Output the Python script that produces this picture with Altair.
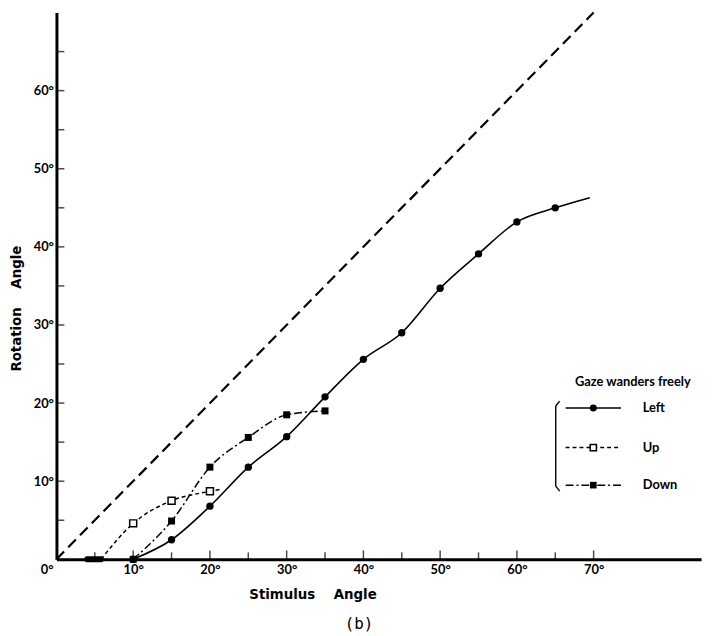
import altair as alt
import pandas as pd

# ---------------- data ----------------
left_x = [10, 15, 20, 25, 30, 35, 40, 45, 50, 55, 60, 65]
left_y = [0, 2.5, 6.8, 11.8, 15.7, 20.8, 25.6, 29.0, 34.7, 39.1, 43.2, 45.0]
left_end_x = [69.5]
left_end_y = [46.3]

up_x = [10, 15, 20]
up_y = [4.6, 7.5, 8.7]
up_start_x = [5.8]
up_start_y = [0]
up_end_x = [21.6]
up_end_y = [9.0]
up_bar_x = [4.0, 5.8]

down_x = [10, 15, 20, 25, 30, 35]
down_y = [0, 4.9, 11.8, 15.6, 18.5, 19.0]

diag_x = [0, 70]
diag_y = [0, 70]

x_major = [10, 20, 30, 40, 50, 60, 70]
x_minor = [5, 15, 25, 35, 45, 55, 65]
y_label_vals = [10, 20, 30, 40, 50, 60]
y_ticks = [5, 10, 15, 20, 25, 30, 35, 40, 45, 50, 55, 60, 65]

legend_names = ["Left", "Up", "Down"]
legend_title = "Gaze wanders freely"

# ---------------- tables ----------------
left_line = pd.DataFrame({"x": left_x + left_end_x, "y": left_y + left_end_y})
left_pts = pd.DataFrame({"x": left_x, "y": left_y})
up_line = pd.DataFrame({"x": up_start_x + up_x + up_end_x, "y": up_start_y + up_y + up_end_y})
up_pts = pd.DataFrame({"x": up_x, "y": up_y})
up_bar = pd.DataFrame({"x": [up_bar_x[0]], "x2": [up_bar_x[1]], "y": [0]})
down_df = pd.DataFrame({"x": down_x, "y": down_y})
diag_df = pd.DataFrame({"x": diag_x, "y": diag_y})
xmaj_df = pd.DataFrame({"x": x_major})
xmin_df = pd.DataFrame({"x": x_minor})
ytk_df = pd.DataFrame({"y": y_ticks})

FONT = "Lato"
TFONT = "DejaVu Sans"
NB = "\u00a0"
xs = alt.Scale(domain=[0, 84], nice=False, zero=False)
ys = alt.Scale(domain=[0, 70], nice=False, zero=False)

x_axis = alt.Axis(values=x_major, labelExpr="datum.value + '°'", tickSize=0,
                  domainWidth=3, domainColor="black", grid=False,
                  labelFont=FONT, labelFontWeight="bold", labelFontSize=13,
                  labelColor="black", labelPadding=4,
                  title="Stimulus" + NB * 4 + "Angle", titleFont=TFONT,
                  titleFontWeight="bold", titleFontSize=13.5, titleColor="black",
                  titleX=259, titleY=36, titleAlign="center", titleBaseline="middle")
y_axis = alt.Axis(values=y_label_vals, labelExpr="datum.value + '°'", tickSize=0,
                  domainWidth=3, domainColor="black", grid=False,
                  labelFont=FONT, labelFontWeight="bold", labelFontSize=13,
                  labelColor="black", labelPadding=3,
                  title="Rotation" + NB * 4 + "Angle",
                  titleFont=TFONT, titleFontWeight="bold", titleFontSize=13.5,
                  titleColor="black", titleX=-36, titleY=299, titleAngle=270,
                  titleAlign="center", titleBaseline="alphabetic")


def X():
    return alt.X("x:Q", scale=xs, axis=x_axis)


def Y():
    return alt.Y("y:Q", scale=ys, axis=y_axis)


def X0():
    return alt.XDatum(0, scale=xs, axis=x_axis)


def Y0():
    return alt.YDatum(0, scale=ys, axis=y_axis)


diag = alt.Chart(diag_df).mark_line(color="black", strokeWidth=2.2, strokeDash=[11, 6]).encode(x=X(), y=Y())

left_l = alt.Chart(left_line).mark_line(color="black", strokeWidth=1.6, interpolate="monotone").encode(x=X(), y=Y())
left_p = alt.Chart(left_pts).mark_point(shape="circle", filled=True, color="black", size=55, opacity=1).encode(x=X(), y=Y())

up_l = alt.Chart(up_line).mark_line(color="black", strokeWidth=1.5, strokeDash=[4, 3], interpolate="monotone").encode(x=X(), y=Y())
up_p = alt.Chart(up_pts).mark_point(shape="square", filled=True, fill="white", stroke="black", strokeWidth=1.5, size=50, opacity=1).encode(x=X(), y=Y())
up_b = alt.Chart(up_bar).mark_rule(color="black", strokeWidth=6, strokeCap="round").encode(x=X(), x2="x2:Q", y=Y())

down_l = alt.Chart(down_df).mark_line(color="black", strokeWidth=1.5, strokeDash=[8, 3, 2, 3], interpolate="monotone").encode(x=X(), y=Y())
down_p = alt.Chart(down_df).mark_point(shape="square", filled=True, color="black", size=50, opacity=1).encode(x=X(), y=Y())

xmaj = alt.Chart(xmaj_df).mark_tick(orient="vertical", color="black", size=9, thickness=1.5, yOffset=-4.5).encode(x=X(), y=Y0())
xmin = alt.Chart(xmin_df).mark_tick(orient="vertical", color="black", size=7, thickness=1.5, yOffset=-3.5).encode(x=X(), y=Y0())
ytk = alt.Chart(ytk_df).mark_tick(orient="horizontal", color="black", size=8, thickness=1.5, xOffset=4).encode(y=Y(), x=X0())

zero_lbl = alt.Chart(pd.DataFrame({"t": ["0°"]})).mark_text(
    font=FONT, fontWeight="bold", fontSize=13, color="black", align="right", baseline="middle", dx=-3, dy=11
).encode(x=X0(), y=Y0(), text="t:N")

# ---------------- legend (drawn by hand) ----------------
row_y = [400, 440, 478]
leg_layers = []
leg_layers.append(alt.Chart(pd.DataFrame({"t": [legend_title]})).mark_text(
    font=FONT, fontWeight="bold", fontSize=13, color="black", align="center", baseline="middle"
).encode(x=alt.value(583), y=alt.value(374), text="t:N"))
dashes = [[1, 0], [4, 3], [8, 3, 2, 3]]
for name, yy, dsh in zip(legend_names, row_y, dashes):
    leg_layers.append(alt.Chart(pd.DataFrame({"n": [name]})).mark_rule(
        color="black", strokeWidth=1.5, strokeDash=dsh
    ).encode(x=alt.value(515), x2=alt.value(571), y=alt.value(yy)))
    leg_layers.append(alt.Chart(pd.DataFrame({"n": [name]})).mark_text(
        font=FONT, fontWeight="bold", fontSize=13, color="black", align="left", baseline="middle"
    ).encode(x=alt.value(593), y=alt.value(yy), text="n:N"))
leg_layers.append(alt.Chart(pd.DataFrame({"n": ["Left"]})).mark_point(
    shape="circle", filled=True, color="black", size=50, opacity=1).encode(x=alt.value(543), y=alt.value(row_y[0])))
leg_layers.append(alt.Chart(pd.DataFrame({"n": ["Up"]})).mark_point(
    shape="square", filled=True, fill="white", stroke="black", strokeWidth=1.5, size=40, opacity=1).encode(x=alt.value(543), y=alt.value(row_y[1])))
leg_layers.append(alt.Chart(pd.DataFrame({"n": ["Down"]})).mark_point(
    shape="square", filled=True, color="black", size=45, opacity=1).encode(x=alt.value(543), y=alt.value(row_y[2])))
# bracket
br = pd.DataFrame({"n": ["b"]})
leg_layers.append(alt.Chart(br).mark_rule(color="black", strokeWidth=1.4).encode(
    x=alt.value(505), y=alt.value(398), y2=alt.value(479)))
leg_layers.append(alt.Chart(br).mark_rule(color="black", strokeWidth=1.4).encode(
    x=alt.value(505), x2=alt.value(509), y=alt.value(398), y2=alt.value(393)))
leg_layers.append(alt.Chart(br).mark_rule(color="black", strokeWidth=1.4).encode(
    x=alt.value(505), x2=alt.value(509), y=alt.value(479), y2=alt.value(484)))

caption = alt.Chart(pd.DataFrame({"t": ["(b)"]})).mark_text(
    font="DejaVu Sans Mono", fontSize=16, color="black", align="center", baseline="middle"
).encode(x=alt.value(306), y=alt.value(619), text="t:N")

chart = alt.layer(
    diag, left_l, left_p, up_l, up_b, up_p, down_l, down_p, xmaj, xmin, ytk, zero_lbl, caption, *leg_layers
).properties(
    width=652, height=553,
    padding={"left": 49, "top": 1, "right": 6, "bottom": 76},
    autosize=alt.AutoSizeParams(type="none"),
    background="white",
).configure_view(stroke=None)

chart.save("out.html", embed_options={"renderer": "svg", "actions": False})
